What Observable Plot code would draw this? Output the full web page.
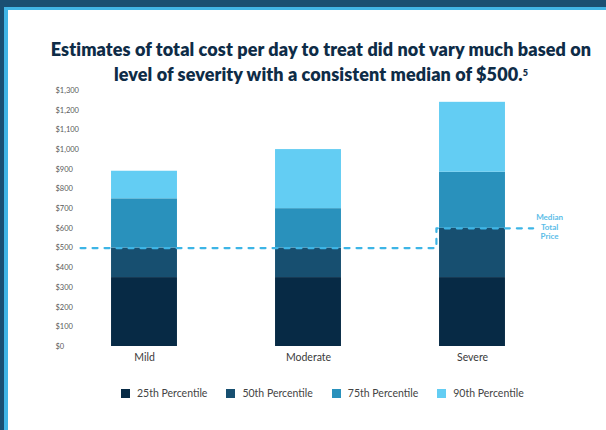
<!DOCTYPE html>
<html><head><meta charset="utf-8">
<script src="https://cdn.jsdelivr.net/npm/d3@7"></script>
<script src="https://cdn.jsdelivr.net/npm/@observablehq/plot@0.6"></script>
<style>
body{margin:0;width:606px;height:430px;overflow:hidden;background:#fff;font-family:Lato,"Open Sans",sans-serif;position:relative}
.bar{position:absolute}
#top1{left:0;top:0;width:606px;height:7px;background:#1a4f72}
#top2{left:4px;top:7px;width:602px;height:3px;background:#41b5e6}
#left1{left:0;top:0;width:4px;height:430px;background:#1a4f72}
#left2{left:4px;top:7px;width:4px;height:423px;background:#41b5e6}
#title{position:absolute;left:0;width:642px;top:37px;text-align:center;font-weight:800;font-size:18px;line-height:25px;color:#0e2c47;white-space:nowrap;letter-spacing:0.1px}
#title sup{font-size:9px;vertical-align:top;position:relative;top:-2px}
#chart{position:absolute;left:0;top:84px}
#legend{position:absolute;left:121px;top:386px;display:flex;gap:19px;font-size:10.5px;color:#444;line-height:14px}
#legend .it{display:flex;align-items:center}
#legend .sw{width:9px;height:9px;margin-right:7px}
</style></head>
<body>
<div class="bar" id="top1"></div><div class="bar" id="left1"></div>
<div class="bar" id="top2"></div><div class="bar" id="left2"></div>
<div id="title">Estimates of total cost per day to treat did not vary much based on<br>level of severity with a consistent median of $500.<sup>5</sup></div>
<div id="chart"></div>
<div id="legend"></div>
<script>
const categories = ["Mild", "Moderate", "Severe"];
const seriesNames = ["25th Percentile", "50th Percentile", "75th Percentile", "90th Percentile"];
const seriesColors = ["#072a45", "#174f70", "#2991bc", "#63cdf3"];
// cumulative top of each percentile band
const p25 = [350, 350, 350];
const p50 = [500, 500, 600];
const p75 = [750, 700, 885];
const p90 = [890, 1000, 1240];
const yTicks = [0,100,200,300,400,500,600,700,800,900,1000,1100,1200,1300];
// median total price line: value before and after the step
const medianBefore = 500;
const medianAfter = 600;

const tops = [p25, p50, p75, p90];
const rows = [];
categories.forEach((c, i) => {
  let prev = 0;
  tops.forEach((arr, s) => {
    rows.push({i, cat: c, series: seriesNames[s], y1: prev, y2: arr[i]});
    prev = arr[i];
  });
});
const sev = categories.indexOf("Severe");
const medianPts = [
  {x: -0.39, y: medianBefore},
  {x: sev - 0.22, y: medianBefore},
  {x: sev - 0.22, y: medianAfter},
  {x: sev + 0.37, y: medianAfter}
];

const fmt = d => "$" + d3.format(",")(d);
const chart = Plot.plot({
  width: 606, height: 290,
  marginLeft: 62, marginRight: 52, marginTop: 6, marginBottom: 28,
  style: {fontFamily: "Lato, sans-serif", background: "transparent"},
  x: {type: "linear", domain: [-0.5, 2.5], axis: null},
  y: {domain: [0, 1300], axis: null},
  color: {domain: seriesNames, range: seriesColors},
  marks: [
    Plot.rectY(rows, {x1: d => d.i - 0.201, x2: d => d.i + 0.201, y1: "y1", y2: "y2", fill: "series"}),
    Plot.axisY(yTicks, {tickSize: 0, tickPadding: 0, textAnchor: "start", dx: -7, tickFormat: fmt, fontSize: 7.5, fill: "#5a5a5a", label: null}),
    Plot.axisX([0, 1, 2], {tickSize: 0, tickPadding: 7, tickFormat: i => categories[i], fontSize: 10.5, fill: "#3a3a3a", label: null}),
    Plot.line(medianPts, {x: "x", y: "y", stroke: "#3db5e6", strokeWidth: 2.2, strokeDasharray: "5,7"}),
    Plot.text(["Median\nTotal\nPrice"], {x: sev + 0.47, y: 609, text: d => d, fontSize: 8, lineHeight: 1.15, fill: "#5bbde8", fontWeight: 700})
  ]
});
document.getElementById("chart").appendChild(chart);

const lg = document.getElementById("legend");
seriesNames.forEach((n, k) => {
  const it = document.createElement("div"); it.className = "it";
  const sw = document.createElement("div"); sw.className = "sw"; sw.style.background = seriesColors[k];
  const t = document.createElement("span"); t.textContent = n;
  it.appendChild(sw); it.appendChild(t); lg.appendChild(it);
});
</script>
</body></html>
